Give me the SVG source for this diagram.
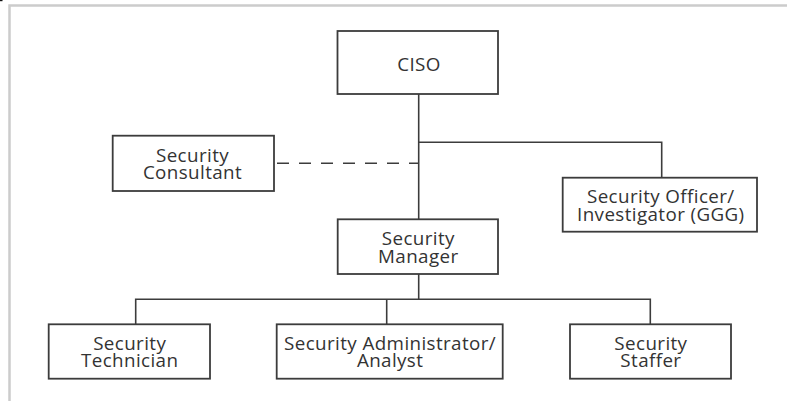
<svg xmlns="http://www.w3.org/2000/svg" width="787" height="401" viewBox="0 0 787 401">
  <style>
    .frame { stroke: #cccccc; stroke-width: 2.5; fill: none; }
    .box { fill: #ffffff; stroke: #3c3c3c; stroke-width: 1.8; }
    .label { font-family: "Open Sans", "Noto Sans", "DejaVu Sans", sans-serif; font-size: 18.8px; letter-spacing: 0.4px; fill: #333333; text-anchor: middle; }
    .wire { stroke: #3c3c3c; stroke-width: 1.6; fill: none; }
    .dashed { stroke-dasharray: 12 10; }
  </style>

  <rect width="787" height="401" fill="#ffffff"/>
  <!-- page frame -->
  <rect x="0" y="0" width="2.5" height="1.2" fill="#111111"/>
  <path class="frame" d="M9.5 401 V5.5 H787"/>

  <!-- connectors -->
  <g id="connectors">
    <path class="wire" d="M418.7 94 V219.3"/>
    <path class="wire" d="M418.7 142.3 H661.7 V177.7"/>
    <path class="wire dashed" d="M277 163.3 H418"/>
    <path class="wire" d="M418.7 274 V299.3"/>
    <path class="wire" d="M135.7 324.3 V299.3 H650.3 V324.3"/>
    <path class="wire" d="M386.7 299.3 V324.3"/>
  </g>

  <g id="ciso">
    <rect class="box" x="337.5" y="31" width="160.5" height="63"/>
    <text class="label" x="419" y="70.8">CISO</text>
  </g>

  <g id="security-consultant">
    <rect class="box" x="112.7" y="135.7" width="161.3" height="55.3"/>
    <text class="label" x="192.5" y="161.7">Security</text>
    <text class="label" x="192.5" y="179.3">Consultant</text>
  </g>

  <g id="security-officer">
    <rect class="box" x="562.7" y="177.7" width="194.3" height="54"/>
    <text class="label" x="660.8" y="203">Security Officer/</text>
    <text class="label" x="660.8" y="220.7">Investigator (GGG)</text>
  </g>

  <g id="security-manager">
    <rect class="box" x="337.7" y="219.3" width="160.3" height="54.7"/>
    <text class="label" x="418.3" y="245">Security</text>
    <text class="label" x="418.3" y="262.7">Manager</text>
  </g>

  <g id="security-technician">
    <rect class="box" x="48.7" y="324.3" width="161.3" height="54.4"/>
    <text class="label" x="129.7" y="349.8">Security</text>
    <text class="label" x="129.7" y="367.4">Technician</text>
  </g>

  <g id="security-administrator">
    <rect class="box" x="276.7" y="324.3" width="226" height="54.4"/>
    <text class="label" x="390.1" y="349.8">Security Administrator/</text>
    <text class="label" x="390.1" y="367.4">Analyst</text>
  </g>

  <g id="security-staffer">
    <rect class="box" x="570" y="324.3" width="161" height="54.4"/>
    <text class="label" x="650.9" y="349.8">Security</text>
    <text class="label" x="650.9" y="367.4">Staffer</text>
  </g>
</svg>
